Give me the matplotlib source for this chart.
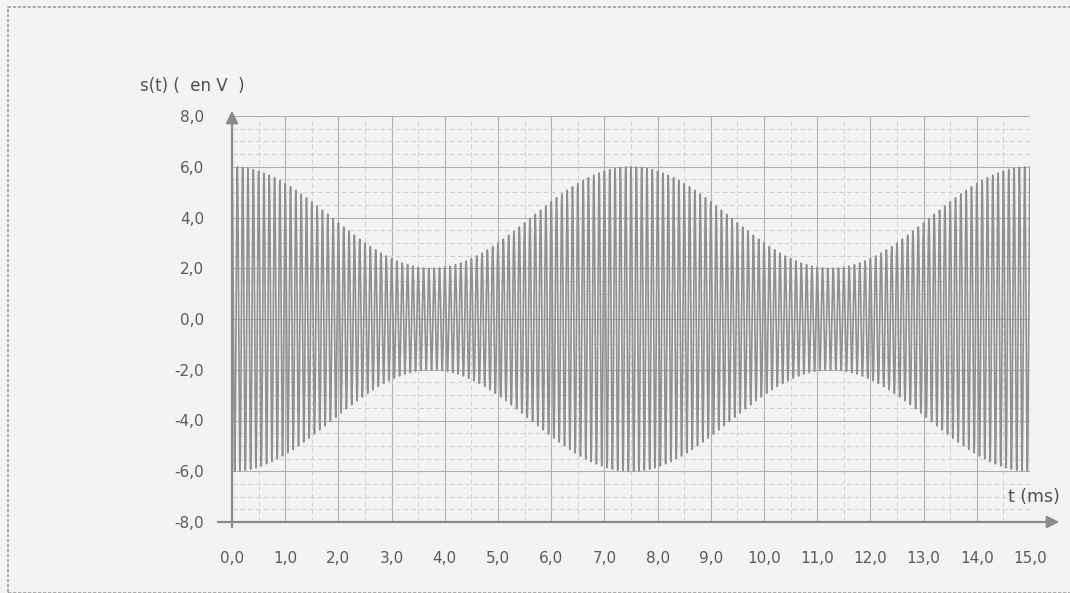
import numpy as np
import matplotlib.pyplot as plt
from matplotlib.patches import Rectangle

# signal (AM signal)
amp_mean = 4.0       # V, mean envelope
amp_mod = 2.0        # V, envelope swing (6 V max, 2 V min)
mod_period = 7.5     # ms, envelope maxima at 0, 7.5, 15
carrier_freq = 10.0  # oscillations per ms
t_end = 15.0

x_ticks = [0.0, 1.0, 2.0, 3.0, 4.0, 5.0, 6.0, 7.0, 8.0, 9.0, 10.0, 11.0, 12.0, 13.0, 14.0, 15.0]
y_ticks = [-8.0, -6.0, -4.0, -2.0, 0.0, 2.0, 4.0, 6.0, 8.0]

t = np.linspace(0, t_end, 6001)
envelope = amp_mean + amp_mod * np.cos(2 * np.pi * t / mod_period)
s = envelope * np.cos(2 * np.pi * carrier_freq * t)

bg = '#f3f3f3'
fig = plt.figure(figsize=(10.70, 5.93), dpi=100, facecolor=bg)
ax = fig.add_axes([232 / 1070, 1 - 522 / 593, 798 / 1070, 406 / 593])
ax.set_facecolor(bg)

ax.plot(t, s, color='#909090', lw=1.2)

ax.set_xlim(0, 15)
ax.set_ylim(-8, 8)
ax.set_xticks(x_ticks)
ax.set_yticks(y_ticks)
ax.set_xticks(np.arange(0, 15.01, 0.5), minor=True)
ax.set_yticks(np.arange(-8, 8.01, 0.5), minor=True)
fmt = lambda v: ('%.1f' % v).replace('.', ',')
ax.set_xticklabels([fmt(v) for v in x_ticks])
ax.set_yticklabels([fmt(v) for v in y_ticks])
ax.grid(which='major', color='#b0b0b0', lw=0.8)
ax.grid(which='minor', color='#d0d0d0', lw=0.7, ls=(0, (5, 3)))
ax.set_axisbelow(True)
ax.tick_params(which='both', length=0)
ax.tick_params(axis='x', pad=21, labelsize=11, colors='#5a5a5a')
ax.tick_params(axis='y', pad=20, labelsize=11, colors='#5a5a5a')
for sp in ax.spines.values():
    sp.set_visible(False)

# axis arrows
ax.annotate('', xy=(1062 / 1070, 1 - 522 / 593), xytext=(215 / 1070, 1 - 522 / 593),
            xycoords='figure fraction', textcoords='figure fraction',
            arrowprops=dict(arrowstyle='-|>', color='#8a8a8a', lw=1.6, mutation_scale=18))
ax.annotate('', xy=(232 / 1070, 1 - 108 / 593), xytext=(232 / 1070, 1 - 530 / 593),
            xycoords='figure fraction', textcoords='figure fraction',
            arrowprops=dict(arrowstyle='-|>', color='#8a8a8a', lw=1.6, mutation_scale=18))

fig.text(140 / 1070, 1 - 86 / 593, 's(t) (  en V  )', fontsize=12, color='#505050', va='center')
fig.text(1060 / 1070, 1 - 497 / 593, 't (ms)', fontsize=12.5, color='#505050', va='center', ha='right')

fig.patches.append(Rectangle((8 / 1070, 0), 1.2, 1 - 7 / 593, transform=fig.transFigure,
                             fill=False, ec='#a0a0a0', lw=1.2, ls=(0, (2, 1))))

fig.savefig('out.png', dpi=100, facecolor=bg)
